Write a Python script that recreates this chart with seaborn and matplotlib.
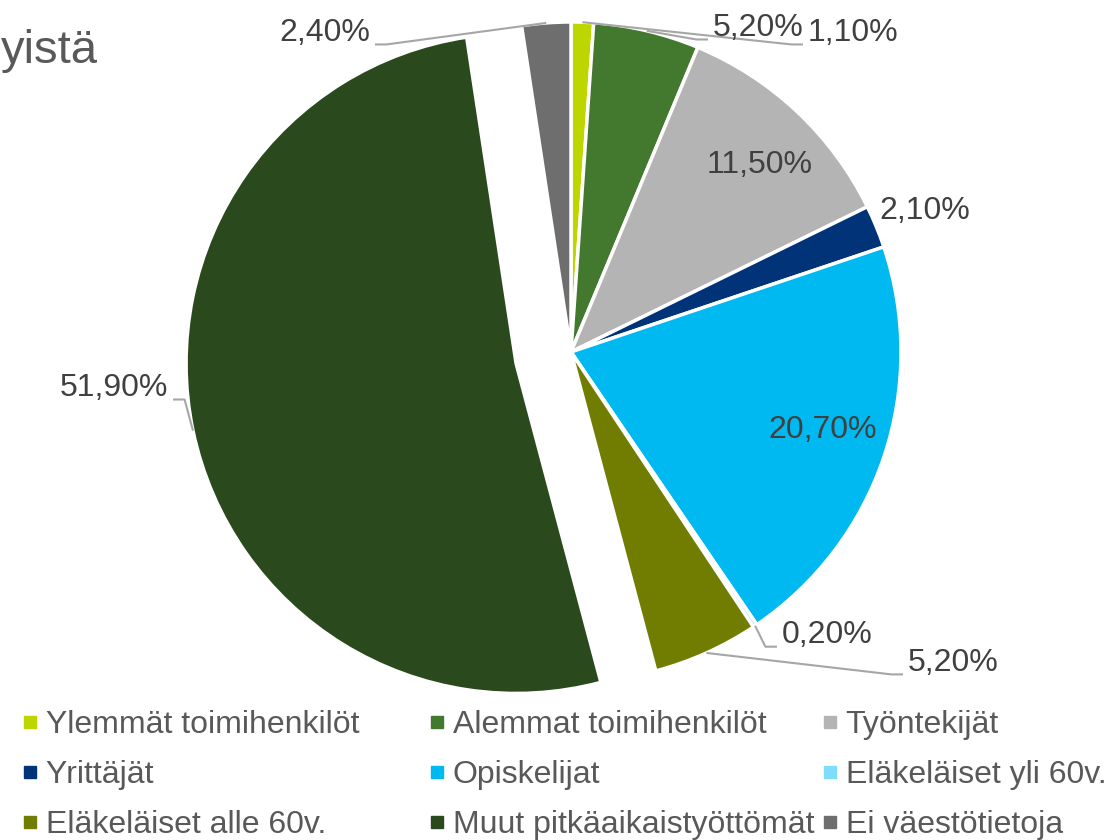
import numpy as np
import matplotlib
matplotlib.use("Agg")
import matplotlib.pyplot as plt
from matplotlib.lines import Line2D
import seaborn as sns

# Data
categories = ["Ylemmät toimihenkilöt", "Alemmat toimihenkilöt", "Työntekijät",
              "Yrittäjät", "Opiskelijat", "Eläkeläiset yli 60v.",
              "Eläkeläiset alle 60v.", "Muut pitkäaikaistyöttömät", "Ei väestötietoja"]
shares = [1.1, 5.2, 11.5, 2.1, 20.7, 0.2, 5.2, 51.9, 2.4]
share_labels = ["1,10%", "5,20%", "11,50%", "2,10%", "20,70%", "0,20%", "5,20%", "51,90%", "2,40%"]
colors = ["#BED600", "#43782F", "#B4B4B4", "#003378", "#00B9F0",
          "#7FDCFA", "#717D00", "#2A4A1E", "#6E6E6E"]
explode = [0, 0, 0, 0, 0, 0, 0, 0.17, 0]

# label placement: (x, y, ha, leader) in pie radius units
label_pos = [(0.718, 0.967, "left", True),
             (0.430, 0.982, "left", True),
             (0.573, 0.567, "center", False),
             (1.073, 0.427, "center", False),
             (0.761, -0.236, "center", False),
             (0.639, -0.858, "left", True),
             (1.021, -0.942, "left", True),
             (-1.221, -0.109, "right", True),
             (-0.609, 0.967, "right", True)]

sns.set_theme(style="white")
plt.rcParams['font.family'] = ['Liberation Sans', 'DejaVu Sans']

W, H = 1113, 840
R = 330.0
cx, cy = 571, 352
fig = plt.figure(figsize=(W / 100, H / 100), dpi=100)
ax = fig.add_axes([0, 0, 1, 1])
ax.axis("off")

wedges, _ = ax.pie(shares, colors=colors, explode=explode, startangle=90,
                   counterclock=False, radius=1,
                   wedgeprops=dict(edgecolor="white", linewidth=2.5))
ax.set_xlim(-cx / R, (W - cx) / R)
ax.set_ylim(-(H - cy) / R, cy / R)

for w, lab, (lx, ly, ha, leader) in zip(wedges, share_labels, label_pos):
    ax.text(lx, ly, lab, ha=ha, va="center", fontsize=23, color="#404040")
    if leader:
        mid = np.deg2rad((w.theta1 + w.theta2) / 2)
        sx = w.center[0] + w.r * np.cos(mid)
        sy = w.center[1] + w.r * np.sin(mid)
        ey = ly - 0.035
        if ha == "left":
            ex = lx - 0.015
            kx = ex - 0.035
        else:
            ex = lx + 0.015
            kx = ex + 0.035
        ax.plot([sx, kx, ex], [sy, ey, ey], color="#A6A6A6", lw=1.5,
                solid_capstyle="butt")

# visible tail of the title (the original is cropped at the left edge)
fig.text(0.001, 0.925, "yistä", fontsize=34, color="#595959", ha="left", va="baseline")

# legend: three columns, filled row by row
handles = [Line2D([], [], marker="s", linestyle="", markersize=8.5,
                  markerfacecolor=c, markeredgecolor=c) for c in colors]
col_left = [20 / W, 427 / W, 820 / W]
for j in range(3):
    idx = [j, j + 3, j + 6]
    fig.legend([handles[i] for i in idx], [categories[i] for i in idx],
               loc="upper left", bbox_to_anchor=(col_left[j], 0.1545),
               frameon=False, fontsize=23, labelcolor="#595959",
               handlelength=0.6, handletextpad=0.2, labelspacing=0.62,
               borderpad=0, borderaxespad=0)

fig.savefig("out.png", dpi=100)
